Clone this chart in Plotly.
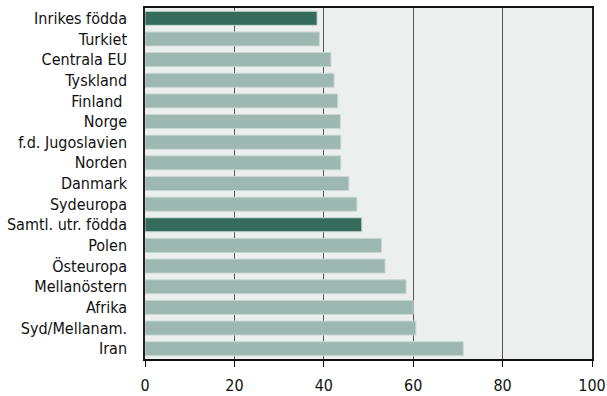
import plotly.graph_objects as go

categories = ["Inrikes födda", "Turkiet", "Centrala EU", "Tyskland", "Finland\u00a0", "Norge",
              "f.d. Jugoslavien", "Norden", "Danmark", "Sydeuropa", "Samtl. utr. födda",
              "Polen", "Östeuropa", "Mellanöstern", "Afrika", "Syd/Mellanam.", "Iran"]
values = [38.5, 39.0, 41.6, 42.3, 43.1, 43.7, 43.8, 43.8, 45.6, 47.4, 48.5,
          52.9, 53.7, 58.4, 60.0, 60.6, 71.2]
highlight = ["Inrikes födda", "Samtl. utr. födda"]
x_ticks = [0, 20, 40, 60, 80, 100]

dark = "#356b5a"
light = "#9db8b0"
colors = [dark if c in highlight else light for c in categories]

fig = go.Figure(go.Bar(
    x=values, y=categories, orientation="h",
    marker=dict(color=colors, line=dict(color="#c9d8d3", width=1)),
))

font_family = "DejaVu Sans Condensed, Liberation Sans Narrow, Arial Narrow, sans-serif"
fig.update_layout(
    width=607, height=396,
    margin=dict(l=145, r=15, t=8, b=37),
    paper_bgcolor="white", plot_bgcolor="#ebefed",
    bargap=0.32, showlegend=False,
    font=dict(family=font_family, size=16, color="#111"),
)
fig.update_xaxes(
    range=[0, 100], tickvals=x_ticks, showgrid=True, gridcolor="#555", gridwidth=1,
    showline=True, linecolor="#111", linewidth=1.5, mirror=True,
    ticks="outside", ticklen=6, tickcolor="#111", zeroline=False,
    tickfont=dict(size=16), automargin=False, ticklabelstandoff=5,
)
fig.update_yaxes(
    autorange="reversed", showline=True, linecolor="#222", linewidth=1.5, mirror=True,
    ticks="", ticklabelstandoff=13, tickfont=dict(size=16), automargin=False,
)
fig.write_html("out.html", config={"displayModeBar": False},
               post_script="document.body.style.margin='0';")
